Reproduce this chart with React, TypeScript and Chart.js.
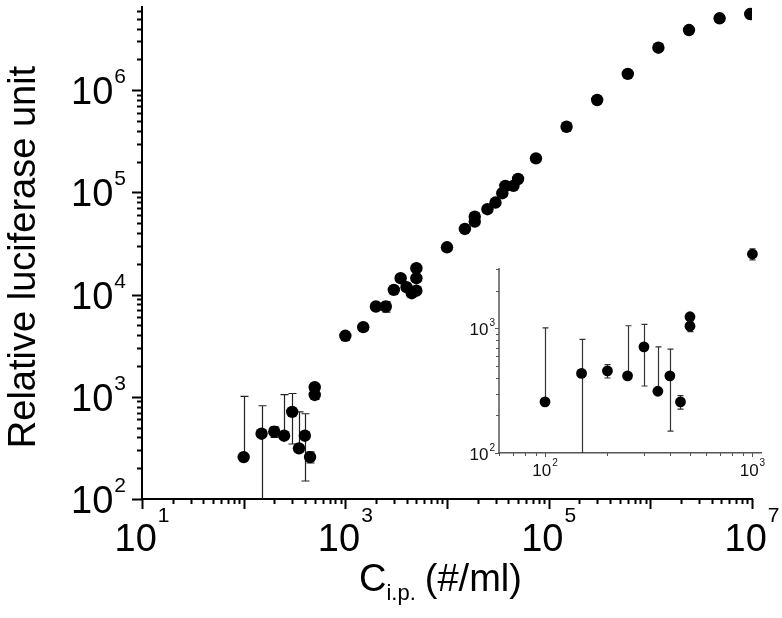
import React, { useEffect, useRef } from 'react';
import { Chart, registerables } from 'chart.js';
Chart.register(...registerables);

// ---- data ----
const concLow = [100, 150, 200, 250, 300, 350, 400, 450, 500, 500];
const rluLow = [257, 435, 456, 416, 711, 313, 416, 257, 1240, 1042];
const errLow = [753, 382, 56, 634, 366, 398, 266, 32, 0, 100];

const concHigh = [1000, 1500, 2000, 2500, 3000, 3500, 4000, 4500, 5000, 5000, 5000, 10000, 15000, 18750, 18750, 25000, 30000, 35000, 37500, 45000, 50000, 75000, 150000, 300000, 600000, 1200000, 2400000, 4800000, 9600000];
const rluHigh = [3950, 4800, 7640, 7640, 11100, 14450, 11800, 10300, 18100, 14450, 10900, 29000, 43800, 51700, 57800, 68400, 79400, 98000, 115600, 115600, 135000, 215000, 438000, 800000, 1440000, 2600000, 3870000, 5040000, 5550000];
const errHigh = [400, 0, 0, 900, 0, 0, 0, 0, 0, 0, 0, 0, 0, 0, 0, 0, 0, 0, 0, 0, 0, 0, 0, 0, 0, 0, 0, 0, 0];

const mainXExponents = [1, 3, 5, 7];
const mainYExponents = [2, 3, 4, 5, 6];
const insetXExponents = [2, 3];
const insetYExponents = [2, 3];

const yTitle = 'Relative luciferase unit';
const xTitleMain = 'C';
const xTitleSub = 'i.p.';
const xTitleRest = '(#/ml)';

const FONT = '"Liberation Sans", Arial, Helvetica, sans-serif';

const allConc = [...concLow, ...concHigh];
const allRlu = [...rluLow, ...rluHigh];
const allErr = [...errLow, ...errHigh];

type Decor = {
  tickMajor: number;
  tickMinor: number;
  tickWidth: number;
  tickColor: string;
  baseFont: number;
  supFont: number;
  xExp: number[];
  yExp: number[];
  xBase: number;
  xSup: number;
  yRightGap: number;
  yBase: number;
  ySup: number;
  labelColor: string;
  errColor: string;
  errWidth: number;
  capHalf: number;
  xs: number[];
  ys: number[];
  errs: number[];
  titles: boolean;
  yAxisTop?: number; // value where a hand-drawn y axis line ends
  yAxisWidth?: number;
};

function logTicks(ctx: CanvasRenderingContext2D, scale: any, horizontal: boolean, area: any, d: Decor, maxOverride?: number) {
  const min = scale.min;
  const max = maxOverride !== undefined ? Math.min(maxOverride, scale.max) : scale.max;
  const lo = Math.floor(Math.log10(min));
  const hi = Math.ceil(Math.log10(max));
  ctx.save();
  ctx.strokeStyle = d.tickColor;
  ctx.lineWidth = d.tickWidth;
  for (let e = lo; e <= hi; e++) {
    for (let m = 1; m <= 9; m++) {
      const v = m * Math.pow(10, e);
      if (v < min * 0.999 || v > max * 1.001) continue;
      const p = Math.round(scale.getPixelForValue(v)) + 0.5;
      const len = m === 1 ? d.tickMajor : d.tickMinor;
      ctx.beginPath();
      if (horizontal) {
        ctx.moveTo(p, area.bottom);
        ctx.lineTo(p, area.bottom + len);
      } else {
        ctx.moveTo(area.left, p);
        ctx.lineTo(area.left - len, p);
      }
      ctx.stroke();
    }
  }
  ctx.restore();
}

function makePlugin(d: Decor) {
  return {
    id: 'decor',
    beforeDatasetsDraw(chart: any) {
      const ctx = chart.ctx as CanvasRenderingContext2D;
      const xs = chart.scales.x;
      const ys = chart.scales.y;
      const area = chart.chartArea;
      if (d.yAxisTop !== undefined) {
        ctx.save();
        ctx.strokeStyle = d.tickColor;
        ctx.lineWidth = d.yAxisWidth || 1.5;
        ctx.beginPath();
        ctx.moveTo(area.left, area.bottom);
        ctx.lineTo(area.left, ys.getPixelForValue(d.yAxisTop));
        ctx.stroke();
        ctx.restore();
      }
      ctx.save();
      ctx.strokeStyle = d.errColor;
      ctx.lineWidth = d.errWidth;
      d.xs.forEach((x, i) => {
        const e = d.errs[i];
        if (!e) return;
        if (x < xs.min || x > xs.max) return;
        const px = Math.round(xs.getPixelForValue(x)) + 0.5;
        const py = ys.getPixelForValue(d.ys[i]);
        const top = ys.getPixelForValue(d.ys[i] + e);
        const lowV = d.ys[i] - e;
        let bot = py;
        let botCap = false;
        if (lowV > 0) {
          bot = ys.getPixelForValue(lowV);
          botCap = true;
          if (bot > area.bottom) {
            bot = area.bottom;
            botCap = false;
          }
        }
        ctx.beginPath();
        ctx.moveTo(px, top);
        ctx.lineTo(px, bot);
        ctx.moveTo(px - d.capHalf, top);
        ctx.lineTo(px + d.capHalf, top);
        if (botCap) {
          ctx.moveTo(px - d.capHalf, bot);
          ctx.lineTo(px + d.capHalf, bot);
        }
        ctx.stroke();
      });
      ctx.restore();
    },
    afterDraw(chart: any) {
      const ctx = chart.ctx as CanvasRenderingContext2D;
      const xs = chart.scales.x;
      const ys = chart.scales.y;
      const area = chart.chartArea;
      logTicks(ctx, xs, true, area, d);
      logTicks(ctx, ys, false, area, d, d.yAxisTop);
      ctx.save();
      ctx.fillStyle = d.labelColor;
      ctx.textBaseline = 'alphabetic';
      ctx.textAlign = 'left';
      const baseF = `${d.baseFont}px ${FONT}`;
      const supF = `${d.supFont}px ${FONT}`;
      d.xExp.forEach((ex) => {
        const px = xs.getPixelForValue(Math.pow(10, ex));
        ctx.font = baseF;
        const w1 = ctx.measureText('10').width;
        ctx.font = supF;
        const w2 = ctx.measureText(String(ex)).width;
        const start = px - (w1 + w2 + 1) / 2;
        ctx.font = baseF;
        ctx.fillText('10', start, area.bottom + d.xBase);
        ctx.font = supF;
        ctx.fillText(String(ex), start + w1 + 1, area.bottom + d.xSup);
      });
      d.yExp.forEach((ex) => {
        const py = ys.getPixelForValue(Math.pow(10, ex));
        ctx.font = baseF;
        const w1 = ctx.measureText('10').width;
        ctx.font = supF;
        const w2 = ctx.measureText(String(ex)).width;
        const right = area.left - d.yRightGap;
        const start = right - w2 - 1 - w1;
        ctx.font = baseF;
        ctx.fillText('10', start, py + d.yBase);
        ctx.font = supF;
        ctx.fillText(String(ex), start + w1 + 1, py + d.ySup);
      });
      if (d.titles) {
        ctx.fillStyle = '#000';
        ctx.font = `38px ${FONT}`;
        ctx.save();
        ctx.translate(35, 257);
        ctx.rotate(-Math.PI / 2);
        ctx.textAlign = 'center';
        ctx.fillText(yTitle, 0, 0);
        ctx.restore();
        ctx.textAlign = 'left';
        const x0 = 359;
        const base = 591;
        ctx.font = `38px ${FONT}`;
        const wc = ctx.measureText(xTitleMain).width;
        ctx.fillText(xTitleMain, x0, base);
        ctx.font = `22px ${FONT}`;
        const ws = ctx.measureText(xTitleSub).width;
        ctx.fillText(xTitleSub, x0 + wc, base + 9);
        ctx.font = `38px ${FONT}`;
        ctx.fillText(xTitleRest, x0 + wc + ws + 9, base);
      }
      ctx.restore();
    },
  };
}

function baseScale(min: number, max: number, borderColor: string, borderWidth: number, size: number, horizontal: boolean, border = true) {
  return {
    type: 'logarithmic' as const,
    min,
    max,
    ticks: { display: false },
    grid: { display: true, drawOnChartArea: false, drawTicks: false },
    border: { display: border, color: borderColor, width: borderWidth },
    afterFit: (s: any) => {
      if (horizontal) s.height = size;
      else s.width = size;
    },
  };
}

function MainChart() {
  const ref = useRef<HTMLCanvasElement>(null);
  useEffect(() => {
    const chart = new Chart(ref.current!, {
      type: 'scatter',
      data: {
        datasets: [
          {
            data: allConc.map((x, i) => ({ x, y: allRlu[i] })),
            backgroundColor: '#000',
            borderWidth: 0,
            pointRadius: 6.2,
            pointHoverRadius: 6.2,
          },
        ],
      },
      options: {
        animation: false,
        responsive: false,
        devicePixelRatio: 1,
        layout: { padding: { top: 7, right: 30, left: 0, bottom: 0 } },
        plugins: { legend: { display: false }, tooltip: { enabled: false } },
        scales: {
          x: baseScale(10, 1e7, '#000', 2, 119, true),
          y: baseScale(100, 6.5e6, '#000', 2, 142, false),
        },
      },
      plugins: [
        makePlugin({
          tickMajor: 10,
          tickMinor: 5,
          tickWidth: 2,
          tickColor: '#000',
          baseFont: 38,
          supFont: 21,
          xExp: mainXExponents,
          yExp: mainYExponents,
          xBase: 52,
          xSup: 23,
          yRightGap: 16,
          yBase: 14,
          ySup: -7,
          labelColor: '#000',
          errColor: '#222',
          errWidth: 1.2,
          capHalf: 4,
          xs: allConc,
          ys: allRlu,
          errs: allErr,
          titles: true,
        }),
      ],
    });
    return () => chart.destroy();
  }, []);
  return <canvas ref={ref} width={782} height={618} style={{ position: 'absolute', left: 0, top: 0 }} />;
}

function InsetChart() {
  const ref = useRef<HTMLCanvasElement>(null);
  useEffect(() => {
    const chart = new Chart(ref.current!, {
      type: 'scatter',
      data: {
        datasets: [
          {
            data: allConc.map((x, i) => ({ x, y: allRlu[i] })).filter((p) => p.x >= 60 && p.x <= 1100),
            backgroundColor: '#000',
            borderWidth: 0,
            pointRadius: 5.4,
            pointHoverRadius: 5.4,
          },
        ],
      },
      options: {
        animation: false,
        responsive: false,
        devicePixelRatio: 1,
        layout: { padding: { top: 11, right: 21, left: 0, bottom: 0 } },
        plugins: { legend: { display: false }, tooltip: { enabled: false } },
        scales: {
          x: baseScale(60, 1100, '#555', 1.5, 33, true),
          y: baseScale(100, 4500, '#555', 1.5, 59, false, false),
        },
      },
      plugins: [
        makePlugin({
          tickMajor: 4,
          tickMinor: 3,
          tickWidth: 1,
          tickColor: '#555',
          baseFont: 17,
          supFont: 10,
          xExp: insetXExponents,
          yExp: insetYExponents,
          xBase: 23,
          xSup: 13,
          yRightGap: 4,
          yBase: 7,
          ySup: -2,
          labelColor: '#111',
          errColor: '#333',
          errWidth: 1.2,
          capHalf: 3,
          xs: allConc,
          ys: allRlu,
          errs: allErr,
          titles: false,
          yAxisTop: 3050,
          yAxisWidth: 1.5,
        }),
      ],
    });
    return () => chart.destroy();
  }, []);
  return <canvas ref={ref} width={342} height={250} style={{ position: 'absolute', left: 440, top: 236 }} />;
}

export default function App() {
  return (
    <div style={{ position: 'absolute', left: 0, top: 0, width: 782, height: 618, background: '#fff', overflow: 'hidden' }}>
      <MainChart />
      <InsetChart />
    </div>
  );
}
